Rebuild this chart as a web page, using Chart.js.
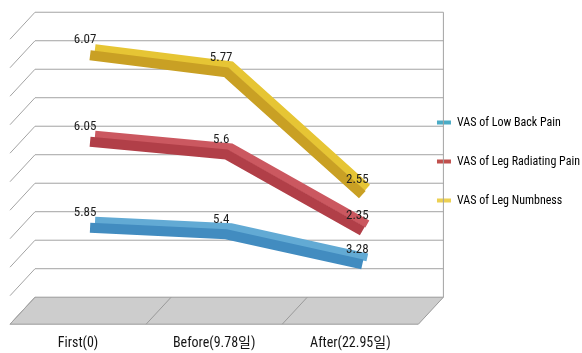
<!DOCTYPE html>
<html>
<head>
<meta charset="utf-8">
<script src="https://cdn.jsdelivr.net/npm/chart.js@4"></script>
<style>
  html, body { margin: 0; padding: 0; background: #fff; }
  #wrap { width: 582px; height: 353px; }
</style>
</head>
<body>
<div id="wrap"><canvas id="grafico"></canvas></div>
<script>
const categories = ['First(0)', 'Before(9.78일)', 'After(22.95일)'];
const seriesNames = ['VAS of Low Back Pain', 'VAS of Leg Radiating Pain', 'VAS of Leg Numbness'];
const lowBackPain = [5.85, 5.4, 3.28];
const legRadiatingPain = [6.05, 5.6, 2.35];
const legNumbness = [6.07, 5.77, 2.55];
const yTicks = [0, 2, 4, 6, 8, 10, 12, 14, 16, 18, 20];

const frontColors = ['#428cc0', '#b13f48', '#c9a024'];
const topColors = ['#62aad4', '#cb5860', '#e6c534'];
const legendColors = ['#4bacc6', '#c0504d', '#ecd052'];

const FONT = "'Roboto Condensed', 'Noto Sans CJK KR', sans-serif";

// depth offsets from the plane of the lines
const BACK = { x: 13, y: -14 };
const FRONT = { x: -12, y: 13 };

function toPoints(values) {
  return values.map((v, i) => ({ x: i, y: v }));
}

function line(ctx, x1, y1, x2, y2) {
  ctx.beginPath();
  ctx.moveTo(x1, y1);
  ctx.lineTo(x2, y2);
  ctx.stroke();
}

// back wall, side wall and floor
const wallPlugin = {
  id: 'wall',
  beforeDatasetsDraw(chart) {
    const { ctx, scales: { x, y } } = chart;
    const left = x.getPixelForValue(-0.5);
    const right = x.getPixelForValue(categories.length - 0.5);
    const y0 = y.getPixelForValue(0);
    ctx.save();

    ctx.beginPath();
    ctx.moveTo(left + BACK.x, y0 + BACK.y);
    ctx.lineTo(right + BACK.x, y0 + BACK.y);
    ctx.lineTo(right + FRONT.x, y0 + FRONT.y);
    ctx.lineTo(left + FRONT.x, y0 + FRONT.y);
    ctx.closePath();
    ctx.fillStyle = '#cdcdcd';
    ctx.fill();
    ctx.strokeStyle = '#9a9a9a';
    ctx.lineWidth = 1;
    ctx.stroke();

    for (let i = 1; i < categories.length; i++) {
      const px = x.getPixelForValue(i - 0.5);
      line(ctx, px + BACK.x, y0 + BACK.y, px + FRONT.x, y0 + FRONT.y);
    }

    ctx.strokeStyle = '#a3a3a3';
    yTicks.forEach(t => {
      const py = y.getPixelForValue(t);
      if (t > 0) line(ctx, left + BACK.x, py + BACK.y, right + BACK.x, py + BACK.y);
      line(ctx, left + BACK.x, py + BACK.y, left + FRONT.x, py + FRONT.y);
    });
    const top = y.getPixelForValue(yTicks[yTicks.length - 1]);
    line(ctx, right + BACK.x, top + BACK.y, right + BACK.x, y0 + BACK.y);
    ctx.restore();
  }
};

// lighter top face of each ribbon, drawn just before the line itself
const ribbonPlugin = {
  id: 'ribbon',
  beforeDatasetDraw(chart, args) {
    const { ctx } = chart;
    const pts = args.meta.data;
    ctx.save();
    ctx.strokeStyle = topColors[args.index];
    ctx.lineWidth = 8;
    ctx.lineJoin = 'miter';
    ctx.beginPath();
    pts.forEach((p, i) => {
      if (i === 0) ctx.moveTo(p.x + 5, p.y - 7);
      else ctx.lineTo(p.x + 5, p.y - 7);
    });
    ctx.stroke();
    ctx.restore();
  }
};

// value labels above the points
const labelPlugin = {
  id: 'valueLabels',
  afterDatasetsDraw(chart) {
    const { ctx } = chart;
    ctx.save();
    ctx.font = '13px ' + FONT;
    ctx.fillStyle = '#1e1e1e';
    ctx.textAlign = 'center';
    ctx.textBaseline = 'middle';
    chart.data.datasets.forEach((ds, i) => {
      chart.getDatasetMeta(i).data.forEach((p, j) => {
        ctx.fillText(String(ds.data[j].y), p.x - 5, p.y - 15);
      });
    });
    ctx.restore();
  }
};

const allSeries = [lowBackPain, legRadiatingPain, legNumbness];

new Chart(document.getElementById('grafico'), {
  type: 'line',
  data: {
    datasets: allSeries.map((values, i) => ({
      label: seriesNames[i],
      data: toPoints(values),
      borderColor: frontColors[i],
      backgroundColor: legendColors[i],
      borderWidth: 10,
      borderCapStyle: 'butt',
      borderJoinStyle: 'miter',
      pointRadius: 0,
      tension: 0,
      fill: false
    }))
  },
  options: {
    responsive: true,
    maintainAspectRatio: false,
    animation: false,
    layout: { padding: { left: 22, top: 12, right: -8, bottom: -23 } },
    scales: {
      x: {
        type: 'linear',
        min: -0.5,
        max: 2.35,
        afterBuildTicks: scale => {
          scale.ticks = categories.map((c, i) => ({ value: i }));
        },
        grid: { display: false, drawTicks: false },
        border: { display: false },
        ticks: {
          callback: v => categories[v],
          font: { size: 14, family: FONT },
          color: '#151515',
          padding: 24,
          labelOffset: -12,
          maxRotation: 0,
          autoSkip: false
        }
      },
      y: {
        display: false,
        stacked: true,
        min: 0,
        max: 21,
        ticks: { stepSize: 2 }
      }
    },
    plugins: {
      legend: {
        position: 'right',
        fullSize: false,
        labels: {
          padding: 27,
          boxWidth: 14,
          boxHeight: 4,
          color: '#333',
          font: { size: 12, family: FONT },
          generateLabels: chart => chart.data.datasets.map((ds, i) => ({
            text: ds.label,
            fillStyle: legendColors[i],
            strokeStyle: legendColors[i],
            lineWidth: 0,
            hidden: false,
            datasetIndex: i
          }))
        }
      },
      tooltip: { enabled: false }
    }
  },
  plugins: [wallPlugin, ribbonPlugin, labelPlugin]
});
</script>
</body>
</html>
